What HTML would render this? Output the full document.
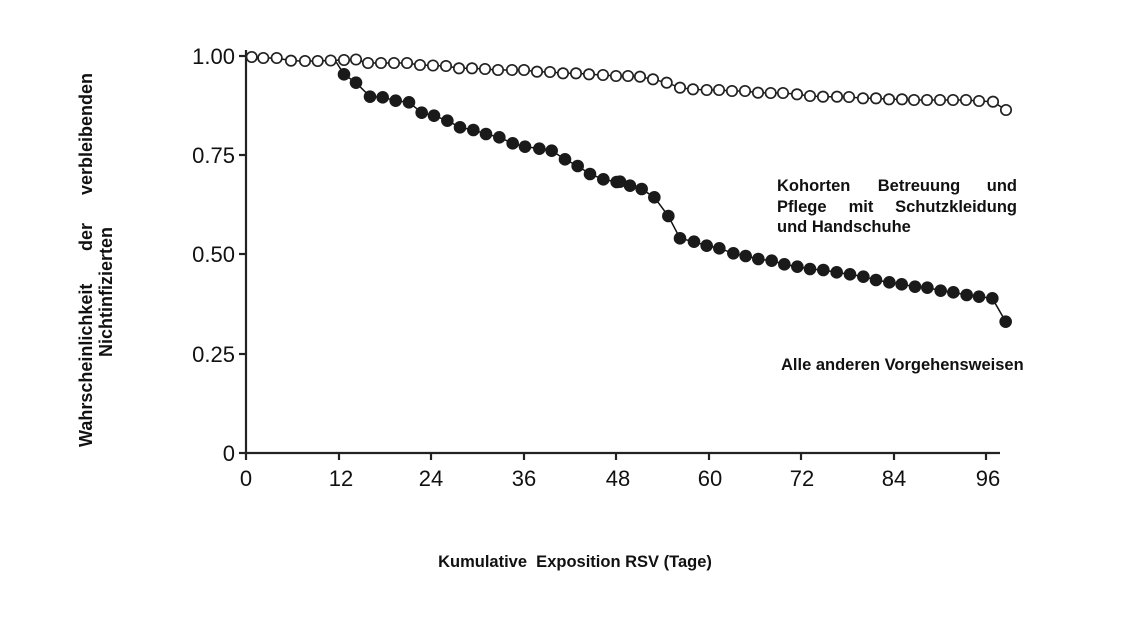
<!DOCTYPE html>
<html><head><meta charset="utf-8"><style>
body{margin:0;background:#fff;width:1140px;height:642px;overflow:hidden}
svg{display:block}
text{font-family:"Liberation Sans",Arial,sans-serif;fill:#111}
.b{font-weight:bold;font-size:16.5px}
.y{font-weight:bold;font-size:18px}
.t{font-size:22px;fill:#1a1a1a}
</style></head><body>
<svg id="s" width="1140" height="642" viewBox="0 0 1140 642">
<g stroke="#222" stroke-width="2.2" fill="none">
<line x1="246" y1="50" x2="246" y2="454"/>
<line x1="245" y1="453" x2="1000" y2="453"/>
<line x1="239" y1="56" x2="246" y2="56"/>
<line x1="239" y1="155" x2="246" y2="155"/>
<line x1="239" y1="254" x2="246" y2="254"/>
<line x1="239" y1="354" x2="246" y2="354"/>
<line x1="239" y1="453" x2="246" y2="453"/>
<line x1="246" y1="453" x2="246" y2="460"/>
<line x1="339" y1="453" x2="339" y2="460"/>
<line x1="431" y1="453" x2="431" y2="460"/>
<line x1="524" y1="453" x2="524" y2="460"/>
<line x1="616" y1="453" x2="616" y2="460"/>
<line x1="709" y1="453" x2="709" y2="460"/>
<line x1="801" y1="453" x2="801" y2="460"/>
<line x1="894" y1="453" x2="894" y2="460"/>
<line x1="986" y1="453" x2="986" y2="460"/>
</g>
<g class="t" text-anchor="end">
<text x="235" y="64">1.00</text><text x="235" y="163">0.75</text>
<text x="235" y="262">0.50</text><text x="235" y="362">0.25</text>
<text x="235" y="461">0</text>
</g>
<g class="t" text-anchor="middle">
<text x="246" y="486">0</text><text x="341" y="486">12</text><text x="431" y="486">24</text>
<text x="524" y="486">36</text><text x="618" y="486">48</text><text x="710" y="486">60</text>
<text x="802" y="486">72</text><text x="894" y="486">84</text><text x="988" y="486">96</text>
</g>
<text class="y" transform="translate(92,447) rotate(-90)">Wahrscheinlichkeit</text>
<text class="y" transform="translate(92,237) rotate(-90)" text-anchor="middle">der</text>
<text class="y" transform="translate(92,73) rotate(-90)" text-anchor="end">verbleibenden</text>
<text class="y" transform="translate(112,292) rotate(-90)" text-anchor="middle">Nichtinfizierten</text>
<text class="b" x="777" y="191">Kohorten</text>
<text class="b" x="919" y="191" text-anchor="middle">Betreuung</text>
<text class="b" x="1017" y="191" text-anchor="end">und</text>
<text class="b" x="777" y="212">Pflege</text>
<text class="b" x="861" y="212" text-anchor="middle">mit</text>
<text class="b" x="1017" y="212" text-anchor="end">Schutzkleidung</text>
<text class="b" x="777" y="232">und Handschuhe</text>
<text class="b" x="781" y="370">Alle anderen Vorgehensweisen</text>
<text class="b" x="575" y="567" text-anchor="middle" style="white-space:pre">Kumulative  Exposition RSV (Tage)</text>
<g id="g"></g>
</svg>
<script>
var open=[[251.7,57],[263.3,58],[276.7,58],[291,60.7],[305,61],[317.7,61],[330.7,60.5],[344,60],[356,59.5],[368,63],[381,63],[394,63],[407,63],[420,65],[433,65.5],[446,66],[459,68.3],[472,68.3],[485,69],[498,70],[512,70],[524,70],[537,71.7],[550,72],[563,73.3],[576,73.3],[589,74.3],[603,75],[616,76],[628,76],[640,76.7],[653,79.3],[666.7,82.7],[680,87.7],[693,89.3],[706.7,90],[719,90],[732,91],[745,91],[758,92.7],[770.7,93],[783,93],[797,94.3],[810,96],[823,96.7],[837,96.7],[849,97],[863,98.3],[876,98.3],[889,99.3],[902,99.3],[914,100],[927,100],[940,100],[953,100],[966,100],[979,101],[993,101.7],[1006,110]];
var z1=[[342,103],[378,128],[420,170],[458,172],[497,182],[537,187],[575,218],[612,227],[652,242],[690,262],[730,270],[768,282],[808,292],[848,310],[885,320],[928,326],[965,332],[1005,358],[1043,378],[1080,402],[1120,418],[1160,426]];
var z2=[[0,425],[30,437],[65,447],[103,472],[145,528],[180,595],[222,605],[260,617],[298,625],[340,640],[377,648],[415,657],[455,662],[493,673],[532,680],[570,687],[610,690],[650,697],[690,703],[730,710],[768,720],[808,727],[845,733],[885,740],[922,743],[962,752],[1000,757],[1040,765],[1077,770],[1117,775],[1157,845]];
var fill=z1.map(p=>[230+p[0]/3,40+p[1]/3]).concat(z2.map(p=>[620+p[0]/3,40+p[1]/3]));
fill.unshift([333,57]);
var h='';
h+='<polyline fill="none" stroke="#111" stroke-width="1.5" points="'+fill.map(p=>p.join(',')).join(' ')+'"/>';
h+='<polyline fill="none" stroke="#111" stroke-width="1.5" points="'+open.map(p=>p.join(',')).join(' ')+'"/>';
fill.slice(1).forEach(p=>h+='<circle cx="'+p[0]+'" cy="'+p[1]+'" r="6.3" fill="#1a1a1a"/>');
open.forEach(p=>h+='<circle cx="'+p[0]+'" cy="'+p[1]+'" r="5.2" fill="#fff" stroke="#222" stroke-width="1.7"/>');
document.getElementById('g').innerHTML=h;
</script>
</body></html>
